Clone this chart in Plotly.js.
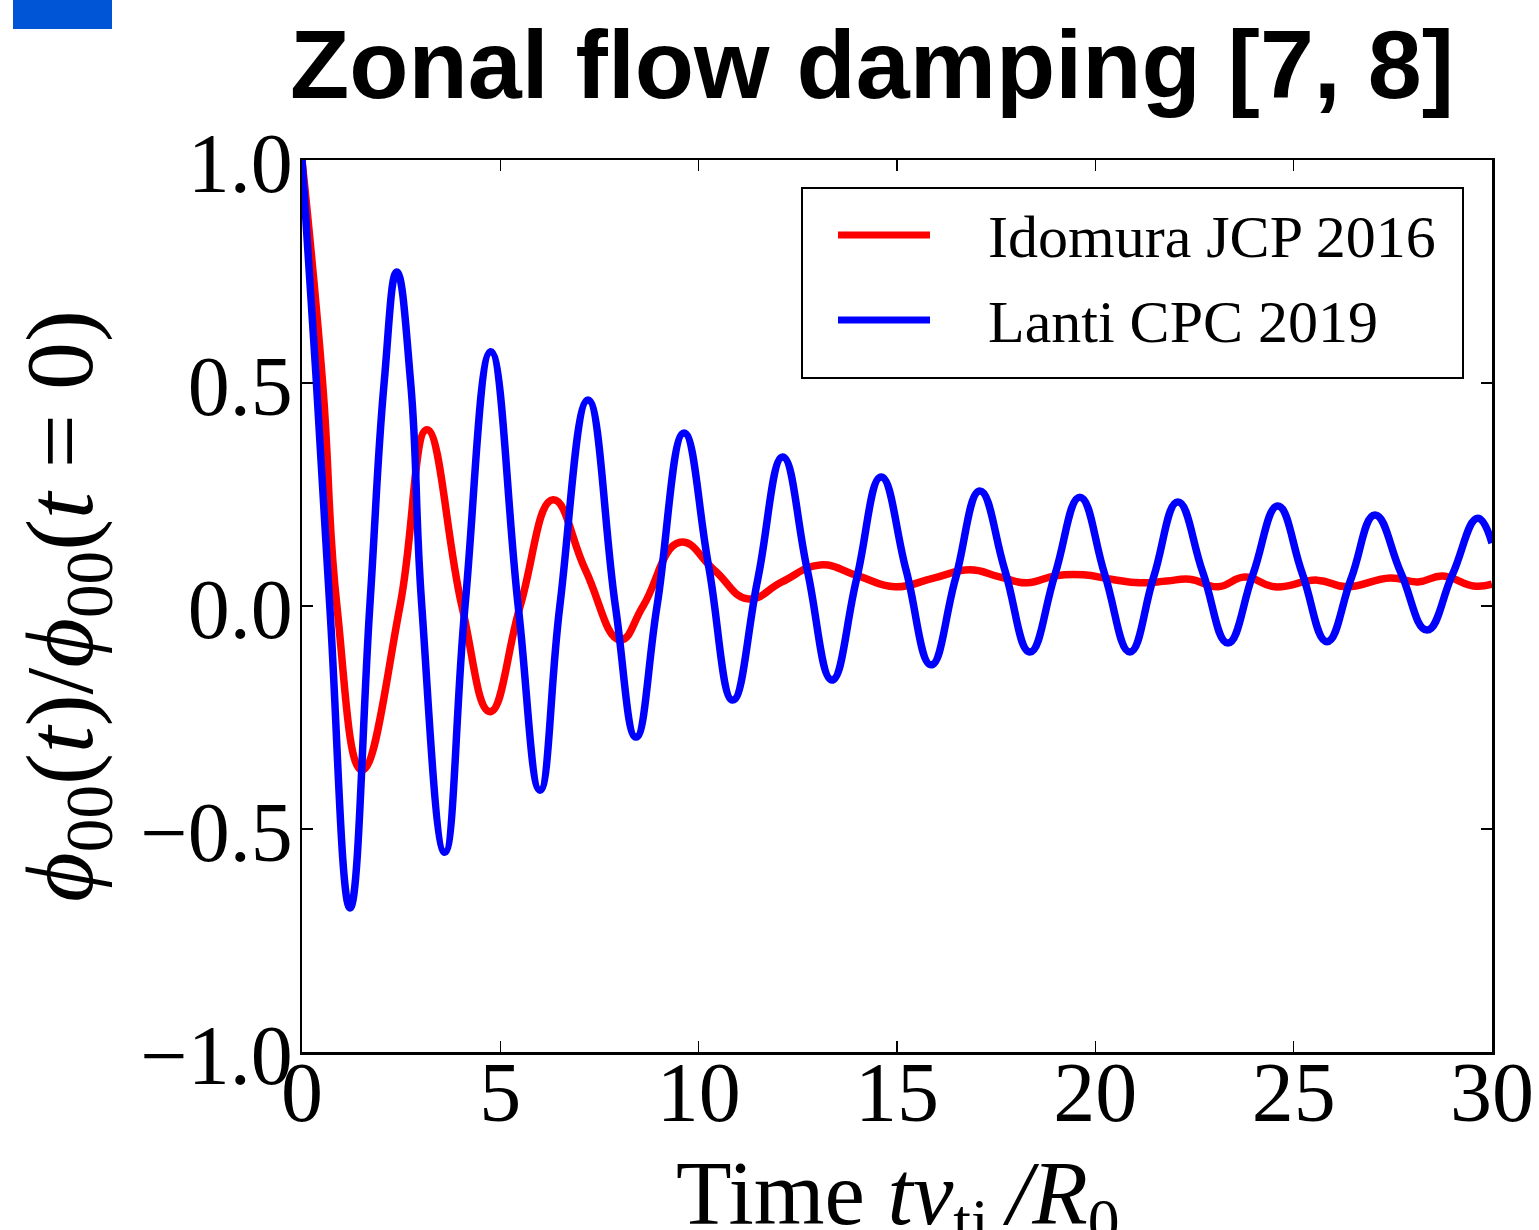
<!DOCTYPE html>
<html>
<head>
<meta charset="utf-8">
<script src="https://cdn.plot.ly/plotly-3.0.1.min.js"></script>
<style>
  html, body { margin: 0; padding: 0; background: #ffffff; }
  #chart { width: 1539px; height: 1230px; }
</style>
</head>
<body>
<div id="chart"></div>
<script>
// ---- Data ----
const seriesNames = ['Idomura JCP 2016', 'Lanti CPC 2019'];
const seriesColors = ['#ff0000', '#0000ff'];

// Idomura JCP 2016 (red)
const tRed = [0, 0.52, 0.88, 1.51, 2.47, 3.15, 4.03, 4.74, 5.5, 6.33, 7.15, 8.02, 8.6, 9.53,
  10.4, 11.24, 12.1, 13.06, 14.0, 14.95, 15.9, 16.84, 17.56, 18.28, 19.0, 19.7, 20.4, 21.12,
  21.8, 22.38, 23.09, 23.77, 24.53, 25.59, 26.34, 27.43, 28.13, 28.76, 29.53, 30];
const vRed = [1.0, 0.5, 0.0, -0.368, 0.0, 0.395, 0.0, -0.237, 0.0, 0.238, 0.08, -0.076, 0.0, 0.143,
  0.08, 0.016, 0.054, 0.092, 0.068, 0.043, 0.062, 0.081, 0.066, 0.052, 0.068, 0.07, 0.06, 0.052,
  0.056, 0.06, 0.043, 0.065, 0.043, 0.058, 0.043, 0.063, 0.054, 0.067, 0.045, 0.049];

// Lanti CPC 2019 (blue)
const tBlue = [0, 0.35, 0.7, 1.21, 1.71, 2.07, 2.39, 2.74, 3.02, 3.6, 4.11, 4.76, 5.45, 6.0, 6.5, 7.21, 7.9,
  8.42, 8.95, 9.63, 10.25, 10.86, 11.49, 12.12, 12.74, 13.36, 13.98, 14.6, 15.23, 15.86, 16.47,
  17.09, 17.72, 18.35, 18.98, 19.61, 20.24, 20.87, 21.47, 22.08, 22.71, 23.34, 23.97, 24.6,
  25.22, 25.84, 26.45, 27.05, 27.7, 28.36, 29.0, 29.64, 30];
const vBlue = [1.0, 0.52, 0.0, -0.677, 0.0, 0.5, 0.749, 0.5, 0.0, -0.552, 0.0, 0.57, 0.0, -0.413, 0.0, 0.462, 0.0,
  -0.294, 0.0, 0.388, 0.09, -0.211, 0.06, 0.334, 0.08, -0.166, 0.06, 0.289, 0.08, -0.132, 0.06,
  0.258, 0.08, -0.103, 0.07, 0.244, 0.07, -0.103, 0.065, 0.233, 0.075, -0.083, 0.07, 0.224,
  0.072, -0.08, 0.062, 0.204, 0.075, -0.054, 0.07, 0.197, 0.141];

const xTickVals = [0, 5, 10, 15, 20, 25, 30];
const xTickText = ['0', '5', '10', '15', '20', '25', '30'];
const yTickVals = [-1.0, -0.5, 0.0, 0.5, 1.0];
const yTickText = ['\u22121.0', '\u22120.5', '0.0', '0.5', '1.0'];

const titleText = 'Zonal flow damping [7, 8]';
const xTitleText = 'Time <i>tv</i><sub>ti</sub><i>\u2009/R</i><sub>0</sub>';
const yTitleText = '<i>\u03d5</i><sub>00</sub>(<i>t</i>)/<i>\u03d5</i><sub>00</sub>(<i>t</i> = 0)';

// ---- Plot geometry (pixels) ----
const W = 1539, H = 1230;
const L = 302, R = 1492, T = 160, B = 1052;
const px = x => (x - L) / (R - L);
const py = y => (B - y) / (B - T);

const serif = '"Liberation Serif", "DejaVu Serif", serif';

const traces = [
  { x: tRed, y: vRed, name: seriesNames[0], type: 'scatter', mode: 'lines',
    line: { color: seriesColors[0], width: 7.5, shape: 'spline', smoothing: 1.3 } },
  { x: tBlue, y: vBlue, name: seriesNames[1], type: 'scatter', mode: 'lines',
    line: { color: seriesColors[1], width: 7.5, shape: 'spline', smoothing: 1.3 } }
];

// custom legend (matplotlib-like) in paper coordinates
const legendRows = [235, 320];
const shapes = [
  { type: 'rect', xref: 'paper', yref: 'paper', x0: px(13), x1: px(112), y0: py(29), y1: py(-5),
    fillcolor: '#0055d6', line: { width: 0 }, layer: 'above' },
  { type: 'rect', xref: 'paper', yref: 'paper', x0: px(802), x1: px(1463), y0: py(378), y1: py(188),
    fillcolor: '#ffffff', line: { color: '#000000', width: 2 }, layer: 'above' }
];
const annotations = [];
seriesNames.forEach((nm, i) => {
  shapes.push({ type: 'line', xref: 'paper', yref: 'paper', x0: px(838), x1: px(930),
    y0: py(legendRows[i]), y1: py(legendRows[i]), line: { color: seriesColors[i], width: 7 }, layer: 'above' });
  annotations.push({ xref: 'paper', yref: 'paper', x: px(986), y: py(legendRows[i] + 2),
    xanchor: 'left', yanchor: 'middle', showarrow: false, text: nm,
    font: { family: serif, size: 60, color: '#000000' } });
});
// x-axis title (placed as annotation so it may run off the bottom edge like the reference)
annotations.push({ xref: 'paper', yref: 'paper', x: px(898), y: py(1200), xanchor: 'center', yanchor: 'middle',
  showarrow: false, text: xTitleText, font: { family: serif, size: 91, color: '#000000' } });

const axisCommon = {
  showgrid: false, zeroline: false, showline: true, linecolor: '#000000', linewidth: 2.5,
  mirror: 'allticks', ticks: 'inside', ticklen: 11, tickwidth: 1.5, tickcolor: '#000000',
  tickfont: { family: serif, size: 84, color: '#000000' }, fixedrange: true
};

const layout = {
  width: W, height: H,
  margin: { l: L, r: W - R, t: T, b: H - B, pad: 0 },
  paper_bgcolor: '#ffffff', plot_bgcolor: '#ffffff',
  showlegend: false,
  title: { text: titleText, xref: 'container', yref: 'container', x: 872 / W, xanchor: 'center',
    y: 1 - 64 / H, yanchor: 'middle',
    font: { family: '"Liberation Sans", Arial, sans-serif', size: 97, weight: 'bold', color: '#000000' } },
  xaxis: Object.assign({}, axisCommon, {
    range: [0, 30], tickmode: 'array', tickvals: xTickVals, ticktext: xTickText, ticklabelstandoff: -34
  }),
  yaxis: Object.assign({}, axisCommon, {
    range: [-1, 1], tickmode: 'array', tickvals: yTickVals, ticktext: yTickText, ticklabelstandoff: -10,
    ticklabelshift: 3,
    title: { text: yTitleText, standoff: 16, font: { family: serif, size: 96, color: '#000000' } }
  }),
  shapes: shapes,
  annotations: annotations
};

Plotly.newPlot('chart', traces, layout, { displayModeBar: false, staticPlot: true });
</script>
</body>
</html>
